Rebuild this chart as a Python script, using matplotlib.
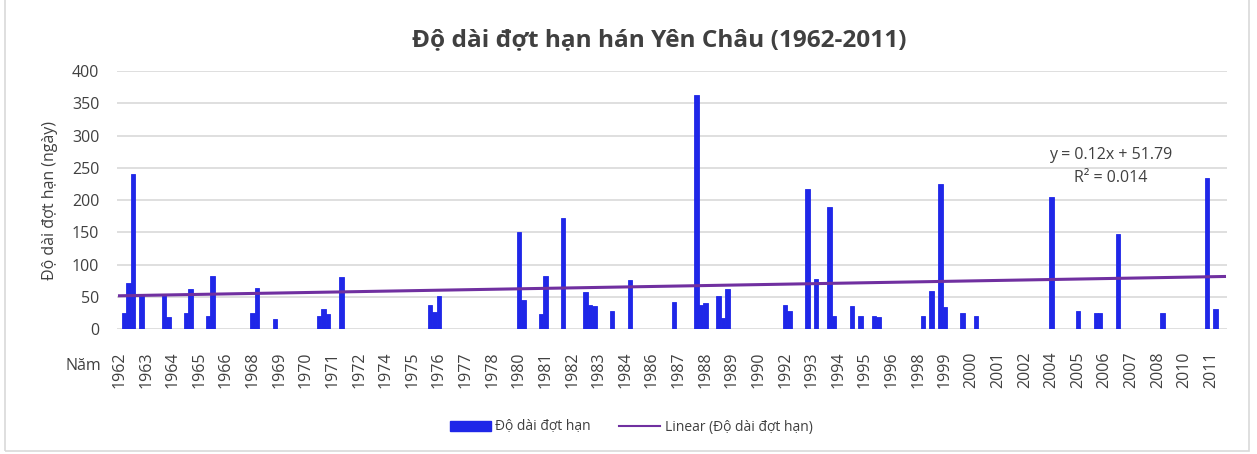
import numpy as np
import matplotlib.pyplot as plt
from matplotlib.patches import Rectangle
from matplotlib.lines import Line2D

plt.rcParams['font.family'] = ['Open Sans', 'DejaVu Sans']

# bảng: mỗi năm 5 ô (đợt hạn), ô trống = 0
nam = list(range(1962, 2012))
do_dai = [
    [0, 26, 71, 241, 0],    # 1962
    [53, 0, 0, 0, 0],       # 1963
    [53, 19, 0, 0, 0],      # 1964
    [26, 62, 0, 0, 0],      # 1965
    [21, 83, 0, 0, 0],      # 1966
    [0, 0, 0, 0, 0],        # 1967
    [26, 64, 0, 0, 0],      # 1968
    [16, 0, 0, 0, 0],       # 1969
    [0, 0, 0, 0, 0],        # 1970
    [21, 31, 24, 0, 0],     # 1971
    [81, 0, 0, 0, 0],       # 1972
    [0, 0, 0, 0, 0],        # 1973
    [0, 0, 0, 0, 0],        # 1974
    [0, 0, 0, 0, 0],        # 1975
    [37, 27, 52, 0, 0],     # 1976
    [0, 0, 0, 0, 0],        # 1977
    [0, 0, 0, 0, 0],        # 1978
    [0, 0, 0, 0, 0],        # 1979
    [150, 45, 0, 0, 0],     # 1980
    [24, 83, 0, 0, 0],      # 1981
    [172, 0, 0, 0, 0],      # 1982
    [57, 38, 36, 0, 0],     # 1983
    [0, 28, 0, 0, 0],       # 1984
    [76, 0, 0, 0, 0],       # 1985
    [0, 0, 0, 0, 0],        # 1986
    [43, 0, 0, 0, 0],       # 1987
    [363, 38, 40, 0, 0],    # 1988
    [52, 17, 62, 0, 0],     # 1989
    [0, 0, 0, 0, 0],        # 1990
    [0, 0, 0, 0, 0],        # 1991
    [38, 28, 0, 0, 0],      # 1992
    [217, 0, 78, 0, 0],     # 1993
    [189, 21, 0, 0, 0],     # 1994
    [36, 0, 21, 0, 0],      # 1995
    [21, 19, 0, 0, 0],      # 1996
    [0, 0, 0, 0, 0],        # 1997
    [0, 21, 0, 60, 0],      # 1998
    [225, 34, 0, 0, 0],     # 1999
    [26, 0, 0, 21, 0],      # 2000
    [0, 0, 0, 0, 0],        # 2001
    [0, 0, 0, 0, 0],        # 2002
    [0, 0, 0, 0, 0],        # 2003
    [205, 0, 0, 0, 0],      # 2004
    [0, 29, 0, 0, 0],       # 2005
    [26, 26, 0, 0, 0],      # 2006
    [148, 0, 0, 0, 0],      # 2007
    [0, 0, 0, 0, 0],        # 2008
    [26, 0, 0, 0, 0],       # 2009
    [0, 0, 0, 0, 0],        # 2010
    [234, 0, 31, 0, 0],     # 2011
]
# đường xu thế (Excel)
he_so_a = 0.12
he_so_b = 51.79
r2 = 0.014
yticks = [0, 50, 100, 150, 200, 250, 300, 350, 400]

vals = np.array(do_dai, dtype=float).ravel()
cat_nam = np.repeat(nam, 5)
x = np.arange(1, len(vals) + 1)

fig = plt.figure(figsize=(12.57, 4.54), dpi=100)
ax = fig.add_axes([117.3/1257, 1 - 329.3/454, 1109.4/1257, 258.3/454])

blue = '#1F27E8'
m = vals > 0
ax.bar(x[m], vals[m], width=1.0, color=blue, edgecolor=blue, linewidth=0.6, zorder=3)
ax.plot(x, he_so_a * x + he_so_b, color='#7030A0', lw=2.2, zorder=4)

ax.set_xlim(0.5, len(vals) + 0.5)
ax.set_ylim(0, 400)
ax.set_yticks(yticks)
ax.grid(axis='y', color='#d9d9d9', lw=1.2, zorder=0)
for s in ['top', 'right', 'left', 'bottom']:
    ax.spines[s].set_visible(False)
ax.tick_params(axis='y', length=0, pad=13, labelsize=11.5, labelcolor='#404040')
tick_idx = np.arange(0, len(vals), 6)
ax.set_xticks(x[tick_idx])
ax.set_xticklabels([str(y) for y in cat_nam[tick_idx]], rotation=90)
ax.tick_params(axis='x', length=0, pad=16, labelsize=11.5, labelcolor='#404040')

ax.set_ylabel('Độ dài đợt hạn (ngày)', fontsize=11.5, color='#404040', labelpad=10)
fig.text(83/1257, 1 - 366/454, 'Năm', fontsize=11.5, color='#404040', ha='center', va='center')
fig.text(659/1257, 1 - 40/454, 'Độ dài đợt hạn hán Yên Châu (1962-2011)', fontsize=17.6,
         fontweight='bold', color='#404040', ha='center', va='center')
fig.text(1111/1257, 1 - 155/454, f'y = {he_so_a}x + {he_so_b}', fontsize=11.5,
         color='#404040', ha='center', va='center')
fig.text(1111/1257, 1 - 178/454, f'R² = {r2}', fontsize=11.5,
         color='#404040', ha='center', va='center')

handles = [Rectangle((0, 0), 1, 1, color=blue), Line2D([], [], color='#7030A0', lw=1.5)]
fig.legend(handles, ['Độ dài đợt hạn', 'Linear (Độ dài đợt hạn)'], loc='center',
           bbox_to_anchor=(631/1257, 1 - 427/454), ncol=2, frameon=False, fontsize=10,
           handlelength=3, handleheight=0.7, handletextpad=0.3, columnspacing=2.0,
           labelcolor='#404040')

fig.patches.append(Rectangle((0.004, 0.006), 0.99, 1.5, transform=fig.transFigure,
                             fill=False, edgecolor='#d9d9d9', lw=1.2))

fig.savefig('out.png', dpi=100)
